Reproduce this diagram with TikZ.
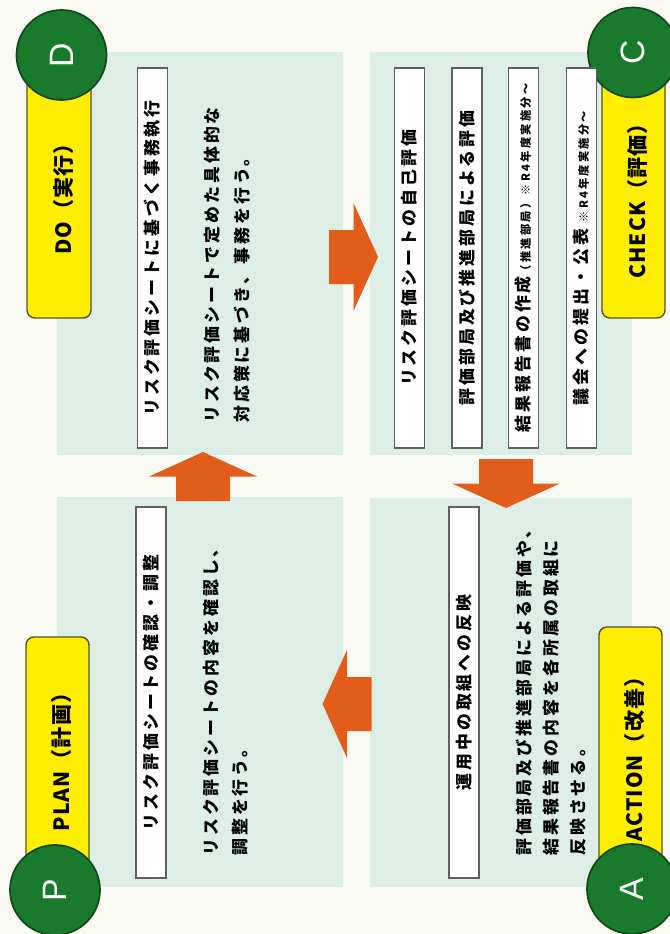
\documentclass[tikz,border=0pt]{standalone}
\usepackage{fontspec}
\setmainfont{Noto Sans CJK JP}[LetterSpace=18]
\newfontfamily\labelfont{Noto Sans CJK JP}[LetterSpace=5]
\newfontfamily\markfont{Liberation Sans}
\usetikzlibrary{calc}
\definecolor{paper}{RGB}{250,250,244}
\definecolor{panelgreen}{RGB}{220,238,229}
\definecolor{tabyellow}{RGB}{255,238,0}
\definecolor{tabedge}{RGB}{90,82,35}
\definecolor{dotgreen}{RGB}{24,122,42}
\definecolor{dotedge}{RGB}{22,70,30}
\definecolor{flowarrow}{RGB}{226,92,26}
\definecolor{boxedge}{RGB}{95,95,95}
\def\bigarrow(#1)(#2){\fill[flowarrow,shift={(#1)},rotate=#2] (-24.5,-27) -- (0,-27) -- (0,-54) -- (24.5,0) -- (0,54) -- (0,27) -- (-24.5,27) -- cycle;}
\newcommand\smallnote{\fontsize{8}{8}\selectfont\addfontfeatures{LetterSpace=20}}

\begin{document}
\begin{tikzpicture}[x=0.025cm,y=-0.025cm,
	sheetbox/.style={draw=boxedge, line width=1.1pt, fill=white, rotate=90, inner sep=0pt, minimum height=0.75cm, font=\bfseries\fontsize{12}{12}\selectfont},
	bodyline/.style={rotate=90, anchor=west, inner sep=0pt, font=\bfseries\fontsize{12}{12}\selectfont},
	tab/.style={draw=tabedge, line width=1pt, fill=tabyellow, rounded corners=0.2cm},
	tabtext/.style={rotate=90, inner sep=0pt, font=\labelfont\bfseries\fontsize{15}{15}\selectfont},
	dot/.style={circle, draw=dotedge, line width=1.2pt, fill=dotgreen, minimum size=2.25cm, inner sep=0pt, rotate=90, text=white, font=\markfont\fontsize{24}{24}\selectfont}]
		%%%%% START %%%%%
		\fill[paper] (0,0) rectangle (670,934);
		\useasboundingbox (0,0) rectangle (670,934);
		
		% panels
		\fill[panelgreen] (57,52) rectangle (343,455);
		\fill[panelgreen] (57,497) rectangle (343,887);
		\fill[panelgreen] (370,52) rectangle (632,455);
		\fill[panelgreen] (370,498) rectangle (632,887);
		
		% cycle arrows
		\bigarrow(203,476.5)(90)
		\bigarrow(353.5,257)(0)
		\bigarrow(506,483.5)(-90)
		\bigarrow(347,704)(180)
		
		% yellow tabs
		\draw[tab] (27,50) rectangle (91,318);
		\draw[tab] (26,637) rectangle (89,885);
		\draw[tab] (602,50) rectangle (665,318);
		\draw[tab] (599,627) rectangle (662,885);
		\node[tabtext] (dotitle) at (63,194) {DO（実行）};
		\node[tabtext] (plantitle) at (61,757) {PLAN（計画）};
		\node[tabtext] (checktitle) at (637,196) {CHECK（評価）};
		\node[tabtext] (actiontitle) at (634,754) {ACTION（改善）};
		
		% circles
		\node[dot] (ddot) at (61.5,55) {D};
		\node[dot] (pdot) at (55,890) {P};
		\node[dot] (cdot) at (633,52.5) {C};
		\node[dot] (adot) at (632,889) {A};
		
		% DO
		\node[sheetbox, minimum width=9.5cm] (dobox) at (152.5,258) {リスク評価シートに基づく事務執行};
		\node[bodyline] (doline1) at (212,423) {リスク評価シートで定めた具体的な};
		\node[bodyline] (doline2) at (242,423) {対応策に基づき、事務を行う。};
		
		% PLAN
		\node[sheetbox, minimum width=9.275cm] (planbox) at (151,692.5) {リスク評価シートの確認・調整};
		\node[bodyline] (planline1) at (211,856) {リスク評価シートの内容を確認し、};
		\node[bodyline] (planline2) at (240,856) {調整を行う。};
		
		% CHECK
		\node[sheetbox, minimum width=9.5cm] (checkbox1) at (409.5,258) {リスク評価シートの自己評価};
		\node[sheetbox, minimum width=9.5cm] (checkbox2) at (467,258) {評価部局及び推進部局による評価};
		\node[sheetbox, minimum width=9.5cm] (checkbox3) at (523.5,258) {結果報告書の作成{\smallnote （推進部局）※R4年度実施分～}};
		\node[sheetbox, minimum width=9.5cm] (checkbox4) at (581.5,258) {議会への提出・公表\hspace{0.4em}{\smallnote ※R4年度実施分～}};
		
		% ACTION
		\node[sheetbox, minimum width=9.275cm] (actionbox) at (464,692.5) {運用中の取組への反映};
		\node[bodyline] (actionline1) at (524,856) {評価部局及び推進部局による評価や、};
		\node[bodyline] (actionline2) at (551,856) {結果報告書の内容を各所属の取組に};
		\node[bodyline] (actionline3) at (578,856) {反映させる。};
		%%%%% END %%%%%
\end{tikzpicture}
\end{document}
